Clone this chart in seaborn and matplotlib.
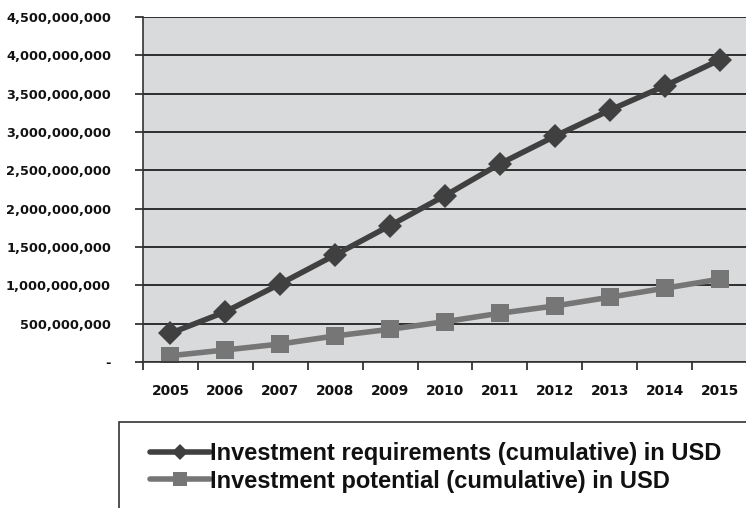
import matplotlib
matplotlib.use("Agg")
import matplotlib.pyplot as plt
import matplotlib.patches as mpatches
from matplotlib.ticker import FuncFormatter, MultipleLocator, FixedLocator
import seaborn as sns
import pandas as pd

years = ["2005", "2006", "2007", "2008", "2009", "2010",
         "2011", "2012", "2013", "2014", "2015"]
requirements = [375e6, 655e6, 1020e6, 1397e6, 1780e6, 2170e6,
                2585e6, 2945e6, 3285e6, 3600e6, 3940e6]
potential = [82e6, 157e6, 235e6, 340e6, 427e6, 526e6,
             636e6, 731e6, 845e6, 962e6, 1080e6]
series_names = ["Investment requirements (cumulative) in USD",
                "Investment potential (cumulative) in USD"]

df = pd.DataFrame({
    "year": years * 2,
    "value": requirements + potential,
    "series": [series_names[0]] * len(years) + [series_names[1]] * len(years),
})

sns.set_theme(style="white")
plt.rcParams["font.family"] = ["DejaVu Sans"]

W, H = 746, 508
fig = plt.figure(figsize=(W / 100, H / 100), dpi=100)
ax = fig.add_axes([143 / W, 1 - 362 / H, (747 - 143) / W, (362 - 17) / H])
ax.set_facecolor("#d9dadc")

colors = {series_names[0]: "#404040", series_names[1]: "#767676"}
markers = {series_names[0]: "D", series_names[1]: "s"}
sns.lineplot(data=df, x="year", y="value", hue="series", style="series",
             palette=colors, markers=markers, dashes=False, linewidth=4,
             markersize=12.5, markeredgewidth=0, ax=ax, legend=False, sort=False)

ax.set_xlim(-0.5, 10.5)
ax.set_ylim(0, 4.5e9)
ax.yaxis.set_major_locator(MultipleLocator(5e8))
ax.yaxis.set_major_formatter(FuncFormatter(lambda v, p: "-" if v == 0 else f"{v:,.0f}"))
ax.grid(axis="y", color="#111111", linewidth=1.2)
ax.set_axisbelow(True)
ax.set_xlabel("")
ax.set_ylabel("")

ax.xaxis.set_minor_locator(FixedLocator([i - 0.5 for i in range(12)]))
ax.tick_params(axis="x", which="major", length=0, pad=16, labelsize=9.9)
ax.tick_params(axis="x", which="minor", length=6, width=1.2, color="#222222", direction="out", bottom=True)
ax.tick_params(axis="y", which="major", length=6, width=1.2, color="#222222", direction="out", left=True, labelsize=9.3, pad=17)
for lab in ax.get_xticklabels() + ax.get_yticklabels():
    lab.set_fontweight("bold")
    lab.set_color("#111111")

for s in ["top", "right"]:
    ax.spines[s].set_visible(False)
ax.spines["left"].set_color("#333333")
ax.spines["left"].set_linewidth(1.2)
ax.spines["bottom"].set_color("#333333")
ax.spines["bottom"].set_linewidth(1.2)

# legend box
fig.patches.append(mpatches.Rectangle((119 / W, -0.05), 1.0, 1 - 422 / H + 0.05,
                                      transform=fig.transFigure, fill=False,
                                      edgecolor="#333333", linewidth=1.2))
handles = [
    plt.Line2D([], [], color=colors[series_names[0]], marker="D", linewidth=4,
               markersize=8, markeredgewidth=0),
    plt.Line2D([], [], color=colors[series_names[1]], marker="s", linewidth=4,
               markersize=9.5, markeredgewidth=0),
]
leg = fig.legend(handles, series_names, loc="upper left",
                 bbox_to_anchor=(150 / W, 1 - 442 / H), frameon=False,
                 handlelength=2.55, handletextpad=0.0, labelspacing=0.2,
                 borderpad=0, borderaxespad=0,
                 prop={"family": "Liberation Sans", "weight": "bold", "size": 17})
for t in leg.get_texts():
    t.set_color("#111111")

fig.savefig("out.png", dpi=100)
